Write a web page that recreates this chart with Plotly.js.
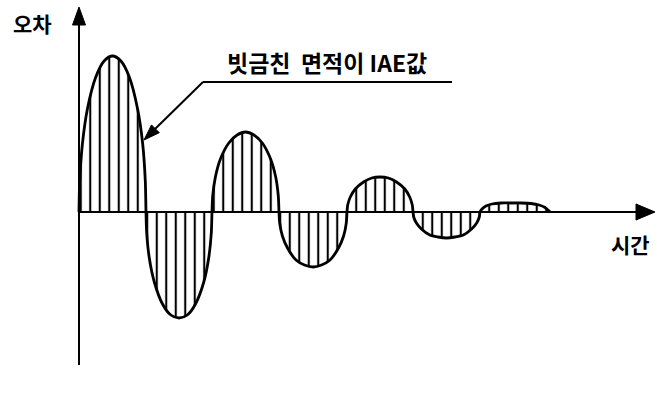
<!DOCTYPE html>
<html>
<head>
<meta charset="utf-8">
<script src="https://cdn.plot.ly/plotly-3.0.1.min.js"></script>
<style>html,body{margin:0;padding:0;background:#fff;}#chart{width:657px;height:393px;}</style>
</head>
<body>
<div id="chart"></div>
<script>
// Time values (arbitrary units)
var time = [
  0, 0.7, 3.4, 8.4, 16.8, 25.1, 33.5, 41.9, 50.3, 58.6, 63.7, 66.3,
  67, 67.7, 70.3, 75.3, 83.5, 91.8, 100, 108.3, 116.5, 124.8, 129.7, 132.3,
  133, 133.7, 136.4, 141.4, 149.8, 158.1, 166.5, 174.9, 183.3, 191.6, 196.7, 199.3,
  200, 200.7, 203.4, 208.5, 217, 225.5, 234, 242.5, 251, 259.5, 264.6, 267.3,
  268, 268.7, 271.3, 276.3, 284.5, 292.8, 301, 309.3, 317.5, 325.8, 330.7, 333.3,
  334, 334.7, 337.4, 342.4, 350.8, 359.1, 367.5, 375.9, 384.3, 392.6, 397.7, 400.3,
  401, 403, 407, 413, 422, 432, 442, 452, 460, 466, 469, 471
];
// Error values
var error = [
  0, 31, 68, 103, 135, 151, 156, 151, 135, 103, 68, 31,
  0, -21, -46, -70, -92, -103, -106, -103, -92, -70, -46, -21,
  0, 16, 35, 53, 69, 77, 80, 77, 69, 53, 35, 16,
  0, -11, -24, -36, -48, -53, -55, -53, -48, -36, -24, -11,
  0, 7, 15, 23, 30, 34, 35, 34, 30, 23, 15, 7,
  0, -5, -11, -17, -23, -25, -26, -25, -23, -17, -11, -5,
  0, 3, 6, 8, 9, 9, 9, 8.5, 7, 4.5, 2, 0
];
var yLabel = "오차";
var xLabel = "시간";
var noteText = "빗금친\u00a0\u00a0면적이 IAE값";

var fam = "'Noto Sans CJK KR', 'Noto Sans', sans-serif";
var labelFont = {family: fam, size: 21, color: "#000"};
var noteFont = {family: fam, size: 23, color: "#000"};

var trace = {
  x: time, y: error, type: "scatter", mode: "lines",
  line: {color: "#000", width: 2.8, shape: "spline", smoothing: 0.8},
  fill: "tozeroy", fillcolor: "rgba(0,0,0,0)",
  fillpattern: {shape: "|", size: 9.5, solidity: 0.22, fgcolor: "#000", bgcolor: "rgba(0,0,0,0)"},
  hoverinfo: "skip"
};

var blk = {color: "#000", width: 2};
var layout = {
  width: 657, height: 393,
  margin: {l: 0, r: 0, t: 0, b: 0},
  paper_bgcolor: "#fff", plot_bgcolor: "#fff",
  showlegend: false,
  xaxis: {range: [-79, 578], visible: false, fixedrange: true},
  yaxis: {range: [-181, 212], visible: false, fixedrange: true},
  shapes: [
    // x axis with arrow
    {type: "line", xref: "x", yref: "y", x0: 0, y0: 0, x1: 558, y1: 0, line: blk},
    {type: "path", xref: "x", yref: "y", path: "M557,8 L576,0 L557,-8 Z", fillcolor: "#000", line: {color: "#000", width: 1}},
    // y axis with arrow
    {type: "line", xref: "x", yref: "y", x0: 0, y0: -153, x1: 0, y1: 188, line: blk},
    {type: "path", xref: "x", yref: "y", path: "M-6.5,187 L0,205 L6.5,187 Z", fillcolor: "#000", line: {color: "#000", width: 1}},
    // leader line
    {type: "line", xref: "x", yref: "y", x0: 124, y0: 130, x1: 373, y1: 130, line: blk},
    {type: "line", xref: "x", yref: "y", x0: 124, y0: 130, x1: 76, y1: 83, line: blk},
    {type: "path", xref: "x", yref: "y", path: "M65,72 L80.3,79.3 L72.5,87.1 Z", fillcolor: "#000", line: {color: "#000", width: 1}}
  ],
  annotations: [
    {x: -47, y: 189, xref: "x", yref: "y", text: "<b>" + yLabel + "</b>", showarrow: false, font: labelFont},
    {x: 551, y: -32, xref: "x", yref: "y", text: "<b>" + xLabel + "</b>", showarrow: false, font: labelFont},
    {x: 248, y: 150, xref: "x", yref: "y", text: "<b>" + noteText + "</b>", showarrow: false, font: noteFont}
  ]
};

Plotly.newPlot("chart", [trace], layout, {staticPlot: true, displayModeBar: false});
</script>
</body>
</html>
